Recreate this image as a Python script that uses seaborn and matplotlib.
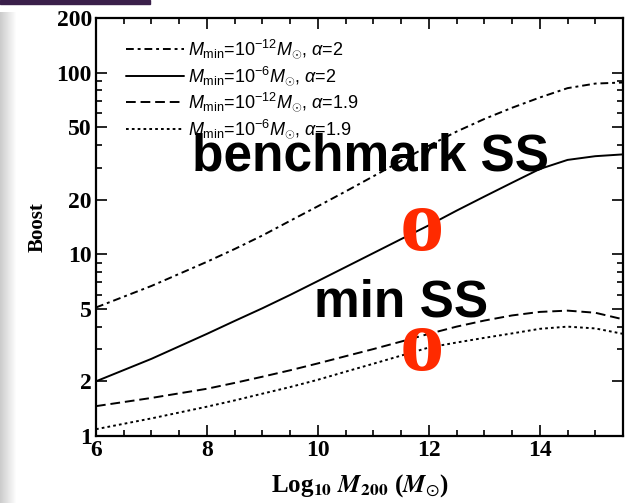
import matplotlib
matplotlib.use("Agg")
import matplotlib.pyplot as plt
import seaborn as sns
import pandas as pd
from matplotlib.ticker import FixedLocator, NullFormatter, MultipleLocator, LogLocator
from matplotlib.patches import Rectangle

# ---- data ----
log_m200 = [6, 7, 8, 8.5, 9, 9.5, 10, 10.5, 11, 11.5, 12, 12.5, 13, 13.5, 14, 14.5, 15, 15.5]
boost_m12_a2 = [5.1, 6.7, 9.1, 10.7, 12.7, 15.3, 18.4, 22.2, 26.9, 32.7, 39.6, 47.4, 55.6, 64.1, 73, 82.2, 87.1, 88.3]
boost_m6_a2 = [2.0, 2.66, 3.65, 4.30, 5.05, 5.98, 7.13, 8.51, 10.16, 12.13, 14.45, 17.4, 20.8, 24.8, 29.5, 33.1, 34.7, 35.5]
boost_m12_a19 = [1.46, 1.62, 1.82, 1.96, 2.12, 2.30, 2.51, 2.75, 3.01, 3.31, 3.65, 4.0, 4.32, 4.61, 4.82, 4.9, 4.77, 4.39]
boost_m6_a19 = [1.09, 1.25, 1.45, 1.57, 1.71, 1.86, 2.04, 2.26, 2.50, 2.77, 3.07, 3.27, 3.47, 3.67, 3.89, 4.0, 3.91, 3.65]

labels = [r'$M_{\rm min}$=10$^{-12}$$M_{\odot}$, $\alpha$=2',
          r'$M_{\rm min}$=10$^{-6}$$M_{\odot}$, $\alpha$=2',
          r'$M_{\rm min}$=10$^{-12}$$M_{\odot}$, $\alpha$=1.9',
          r'$M_{\rm min}$=10$^{-6}$$M_{\odot}$, $\alpha$=1.9']
series = [boost_m12_a2, boost_m6_a2, boost_m12_a19, boost_m6_a19]
styles = [(0, (4, 2, 1.5, 2)), '-', (0, (5, 2.5)), (0, (1.4, 1.6))]

yticks = [1, 2, 5, 10, 20, 50, 100, 200]
xticks = [6, 8, 10, 12, 14]

sns.set_style("ticks")
plt.rcParams['font.family'] = ['Liberation Serif', 'DejaVu Serif']
plt.rcParams['mathtext.fontset'] = 'custom'
plt.rcParams['mathtext.rm'] = 'Liberation Sans'
plt.rcParams['mathtext.it'] = 'Liberation Sans:italic'
plt.rcParams['mathtext.bf'] = 'Liberation Sans:bold'
for k in ['text.color', 'axes.labelcolor', 'xtick.color', 'ytick.color', 'axes.edgecolor']:
    plt.rcParams[k] = 'black'

fig = plt.figure(figsize=(6.29, 5.03), dpi=100)
ax = fig.add_axes([96/629, 67/503, 527/629, 418/503])

for vals, lab, ls in zip(series, labels, styles):
    df = pd.DataFrame({'x': log_m200, 'y': vals})
    sns.lineplot(data=df, x='x', y='y', ax=ax, color='black', linestyle=ls,
                 linewidth=1.4, label=lab)

ax.set_yscale('log')
ax.set_xlim(6, 15.5)
ax.set_ylim(1, 200)
ax.yaxis.set_major_locator(FixedLocator(yticks))
ax.set_yticklabels([str(t) for t in yticks])
ax.yaxis.set_minor_locator(LogLocator(base=10, subs=range(2, 10)))
ax.yaxis.set_minor_formatter(NullFormatter())
ax.xaxis.set_major_locator(FixedLocator(xticks))
ax.xaxis.set_minor_locator(MultipleLocator(0.5))

ax.tick_params(which='both', direction='in', top=True, right=True, width=1.2)
ax.tick_params(which='major', length=8, labelsize=17, pad=3)
ax.tick_params(which='minor', length=4)
for lbl in ax.get_xticklabels() + ax.get_yticklabels():
    lbl.set_fontweight('bold')
for s in ax.spines.values():
    s.set_linewidth(1.6)
    s.set_color('black')

ax.set_xlabel(r'Log$_{\mathbf{10}}$ $\boldsymbol{M}_{\mathbf{200}}$ ($\boldsymbol{M}_{\odot}$)',
              fontsize=18, fontweight='bold', labelpad=8, math_fontfamily='stix')
ax.set_ylabel('Boost', fontsize=15, fontweight='bold', labelpad=6)

leg = ax.legend(loc='upper left', frameon=False, fontsize=13, handlelength=3.2,
                handletextpad=0.2, labelspacing=0.2, borderaxespad=0.7,
                bbox_to_anchor=(0.02, 1.0))
for t in leg.get_texts():
    t.set_family(['Liberation Sans', 'DejaVu Sans'])

ax.text(0.52, 0.636, 'benchmark SS', transform=ax.transAxes, ha='center',
        va='baseline', fontsize=37, fontweight='bold', family='Liberation Sans')
ax.text(0.579, 0.285, 'min SS', transform=ax.transAxes, ha='center',
        va='baseline', fontsize=37, fontweight='bold', family='Liberation Sans')
ax.text(0.619, 0.445, 'o', transform=ax.transAxes, ha='center', va='baseline',
        fontsize=64, fontweight='bold', color='#ff2a00', family='Liberation Serif')
ax.text(0.619, 0.158, 'o', transform=ax.transAxes, ha='center', va='baseline',
        fontsize=64, fontweight='bold', color='#ff2a00', family='Liberation Serif')

# slide screenshot artifacts
fig.add_artist(Rectangle((0, 1 - 4/503), 150/629, 4/503, transform=fig.transFigure,
                         color='#3a1f4a', zorder=0))
for i in range(16):
    fig.add_artist(Rectangle((i/629, 0), 1/629, 1 - 12/503, transform=fig.transFigure,
                             color=(0.80 + i*0.0125,)*3, zorder=0, lw=0))

fig.savefig('out.png', dpi=100)
